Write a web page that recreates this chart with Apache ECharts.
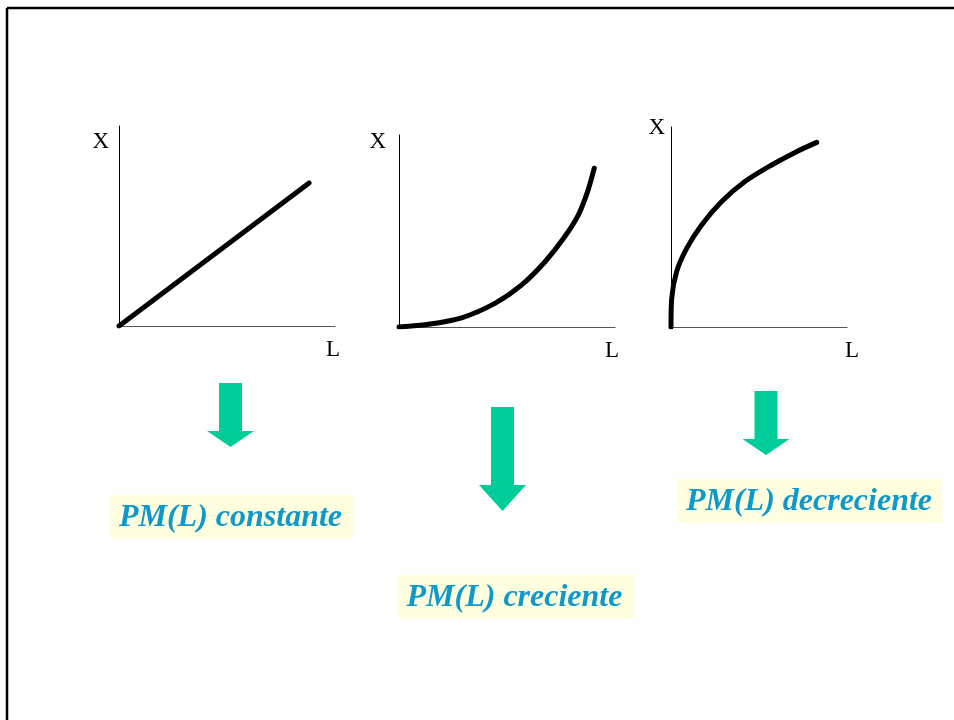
<!DOCTYPE html>
<html>
<head>
<meta charset="utf-8">
<script src="https://cdn.jsdelivr.net/npm/echarts@6/dist/echarts.min.js"></script>
<style>
html, body { margin: 0; padding: 0; background: #fff; }
#main { width: 954px; height: 720px; }
</style>
</head>
<body>
<div id="main"></div>
<script>
// curvas (escala 0-100 en cada eje)
var constante = [[0, 0], [88, 71.5]];
var creciente = [[0, 0], [13.6, 1.4], [29, 4.8], [44.4, 12.3], [56.8, 21.9], [67.6, 34], [76.2, 46.2], [83, 58.3], [87.3, 70.5], [90.4, 82.7]];
var decreciente = [[0, 0], [0.4, 14.3], [3.2, 27.7], [8.9, 39.3], [17.4, 51], [28.8, 62.7], [42, 72.7], [57.2, 81], [70.5, 87.3], [82.8, 92.3]];

var etiquetas = ['PM(L) constante', 'PM(L) creciente', 'PM(L) decreciente'];
var ejeY = 'X';
var ejeX = 'L';

var verde = '#00CC99';
var azul = '#0E99CC';
var amarillo = '#FFFFDF';

var chart = echarts.init(document.getElementById('main'));

// posiciones de cada mini grafico
var grids = [
	{ left: 119, top: 126, width: 216, height: 200 },
	{ left: 399, top: 135, width: 216, height: 192 },
	{ left: 671, top: 127, width: 176, height: 200 }
];
// desplazamiento del nombre "X" (gap, padding derecho) y de "L" (gap)
var yName = [[-27, 10], [-18, 13], [-12, 6]];
var xName = [-2, -3, 5];

function xAxis(i) {
	return {
		type: 'value', gridIndex: i, min: 0, max: 100,
		name: ejeX, nameLocation: 'end', nameGap: xName[i],
		nameTextStyle: { fontFamily: 'Liberation Serif', fontSize: 23, color: '#000', align: 'center', verticalAlign: 'top', padding: [12, 0, 0, 0] },
		axisLine: { show: true, lineStyle: { color: '#555', width: 1 } },
		axisTick: { show: false }, axisLabel: { show: false }, splitLine: { show: false }
	};
}
function yAxis(i) {
	return {
		type: 'value', gridIndex: i, min: 0, max: 100,
		name: ejeY, nameLocation: 'end', nameGap: yName[i][0],
		nameTextStyle: { fontFamily: 'Liberation Serif', fontSize: 23, color: '#000', align: 'right', padding: [0, yName[i][1], 0, 0] },
		axisLine: { show: true, lineStyle: { color: '#000', width: 1 } },
		axisTick: { show: false }, axisLabel: { show: false }, splitLine: { show: false }
	};
}
function curva(i, data) {
	return {
		type: 'line', xAxisIndex: i, yAxisIndex: i, data: data,
		smooth: 0.3, symbol: 'none', silent: true,
		lineStyle: { color: '#000', width: 5, cap: 'round' }
	};
}

// flechas: [x centro, y arriba, y cabeza, y punta]
var flechas = [[230.5, 383, 431, 447], [502.5, 407, 485, 511], [766, 391, 439, 455]];
function flecha(f) {
	var cx = f[0];
	return {
		type: 'polygon',
		shape: { points: [[cx - 11.5, f[1]], [cx + 11.5, f[1]], [cx + 11.5, f[2]], [cx + 23.5, f[2]], [cx, f[3]], [cx - 23.5, f[2]], [cx - 11.5, f[2]]] },
		style: { fill: verde }
	};
}
// cajas de texto: x, y, ancho, alto
var cajas = [[110, 495, 243, 44], [398, 575, 235, 44], [678, 479, 264, 44]];
function caja(c, texto) {
	return {
		type: 'group',
		children: [
			{ type: 'rect', shape: { x: c[0], y: c[1], width: c[2], height: c[3] }, style: { fill: amarillo } },
			{ type: 'text', x: c[0] + c[2] / 2 - 1, y: c[1] + c[3] / 2 + 1,
				style: { text: texto, fill: azul, font: 'italic bold 32px "Liberation Serif"', align: 'center', verticalAlign: 'middle' } }
		]
	};
}

var graphic = [
	{ type: 'line', shape: { x1: 7, y1: 8, x2: 954, y2: 8 }, style: { stroke: '#000', lineWidth: 2.5 } },
	{ type: 'line', shape: { x1: 7, y1: 8, x2: 7, y2: 720 }, style: { stroke: '#000', lineWidth: 2.5 } }
];
for (var i = 0; i < 3; i++) {
	graphic.push(flecha(flechas[i]));
	graphic.push(caja(cajas[i], etiquetas[i]));
}

var option = {
	animation: false,
	grid: grids,
	xAxis: [xAxis(0), xAxis(1), xAxis(2)],
	yAxis: [yAxis(0), yAxis(1), yAxis(2)],
	series: [curva(0, constante), curva(1, creciente), curva(2, decreciente)],
	graphic: graphic
};
chart.setOption(option);
</script>
</body>
</html>
